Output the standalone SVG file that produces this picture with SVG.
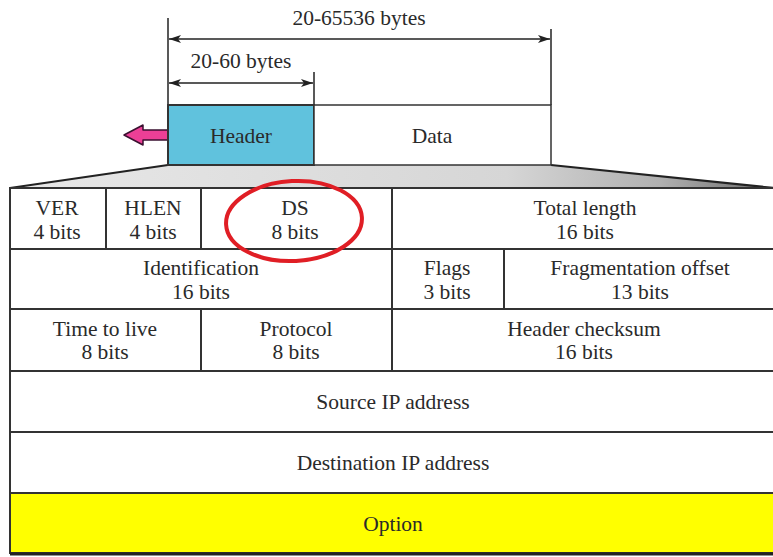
<svg xmlns="http://www.w3.org/2000/svg" width="773" height="557" viewBox="0 0 773 557">
<defs>
<style>
text{font-family:"Liberation Serif","Times New Roman",serif;font-size:21.5px;fill:#2a2a2a;text-anchor:middle}
.ln{stroke:#333;stroke-width:2;fill:none}
.cell{fill:#fff;stroke:#333;stroke-width:2}
.dim{stroke:#222;stroke-width:1.5;fill:none}
</style>
<marker id="ah" viewBox="0 0 12 8" refX="12" refY="4" markerWidth="12" markerHeight="8" markerUnits="userSpaceOnUse" orient="auto-start-reverse">
<path d="M0,0 L12,4 L0,8 L3,4 Z" fill="#222"/>
</marker>
<linearGradient id="gr" x1="0" y1="0" x2="1" y2="0">
<stop offset="0" stop-color="#e8e8e8"/>
<stop offset="0.65" stop-color="#d6d6d6"/>
<stop offset="0.85" stop-color="#b0b0b0"/>
<stop offset="1" stop-color="#6a6a6a"/>
</linearGradient>
</defs>
<rect width="773" height="557" fill="#fff"/>

<g id="connectors">
<line class="dim" x1="168" y1="18" x2="168" y2="105"/>
<line class="dim" x1="551" y1="29" x2="551" y2="105"/>
<line class="dim" x1="314" y1="72" x2="314" y2="105"/>
<line class="dim" x1="169" y1="39" x2="550" y2="39" marker-start="url(#ah)" marker-end="url(#ah)"/>
<line class="dim" x1="169" y1="83" x2="313" y2="83" marker-start="url(#ah)" marker-end="url(#ah)"/>
<path d="M168,165 L10,188 L775,188 L551,165 Z" fill="url(#gr)"/>
<path d="M168,165 L10,188 M551,165 L775,188" stroke="#222" stroke-width="2" fill="none"/>
<path id="pink-arrow" d="M124,135 L143,125 L143,130 L168,130 L168,140 L143,140 L143,145 Z" fill="#ec3f96" stroke="#3a1030" stroke-width="1.5" stroke-linejoin="round"/>
</g>

<g id="dim-labels">
<text x="359" y="25">20-65536 bytes</text>
<text x="241" y="68">20-60 bytes</text>
</g>

<g id="header">
<rect x="168" y="105" width="146" height="60" fill="#60c2dd" stroke="#333" stroke-width="2"/>
<text x="241" y="143">Header</text>
</g>
<g id="data">
<rect x="314" y="105" width="237" height="60" fill="#fff" stroke="#333" stroke-width="1.5"/>
<text x="432" y="143">Data</text>
</g>

<g id="ver"><rect class="cell" x="10" y="188" width="96" height="61"/><text x="57" y="215">VER</text><text x="57" y="239">4 bits</text></g>
<g id="hlen"><rect class="cell" x="106" y="188" width="95" height="61"/><text x="153" y="215">HLEN</text><text x="153" y="239">4 bits</text></g>
<g id="ds"><rect class="cell" x="201" y="188" width="191" height="61"/><text x="295" y="215">DS</text><text x="295" y="239">8 bits</text></g>
<g id="total-length"><rect class="cell" x="392" y="188" width="383" height="61"/><text x="585" y="215">Total length</text><text x="585" y="239">16 bits</text></g>

<g id="identification"><rect class="cell" x="10" y="249" width="382" height="60"/><text x="201" y="275">Identification</text><text x="201" y="299">16 bits</text></g>
<g id="flags"><rect class="cell" x="392" y="249" width="112" height="60"/><text x="447" y="275">Flags</text><text x="447" y="299">3 bits</text></g>
<g id="frag-offset"><rect class="cell" x="504" y="249" width="271" height="60"/><text x="640" y="275">Fragmentation offset</text><text x="640" y="299">13 bits</text></g>

<g id="ttl"><rect class="cell" x="10" y="309" width="191" height="62"/><text x="105" y="336">Time to live</text><text x="105" y="359">8 bits</text></g>
<g id="protocol"><rect class="cell" x="201" y="309" width="191" height="62"/><text x="296" y="336">Protocol</text><text x="296" y="359">8 bits</text></g>
<g id="checksum"><rect class="cell" x="392" y="309" width="383" height="62"/><text x="584" y="336">Header checksum</text><text x="584" y="359">16 bits</text></g>

<g id="source"><rect class="cell" x="10" y="371" width="765" height="61"/><text x="393" y="409">Source IP address</text></g>
<g id="destination"><rect class="cell" x="10" y="432" width="765" height="61"/><text x="393" y="470">Destination IP address</text></g>
<g id="option"><rect x="10" y="493" width="765" height="60" fill="#ffff00" stroke="#333" stroke-width="2"/><line x1="10" y1="554" x2="775" y2="554" stroke="#222" stroke-width="3"/><text x="393" y="531">Option</text></g>

<g id="highlight">
<ellipse cx="294" cy="221" rx="68" ry="40" fill="none" stroke="#e01e25" stroke-width="4" transform="rotate(-3 294 221)"/>
</g>
</svg>
